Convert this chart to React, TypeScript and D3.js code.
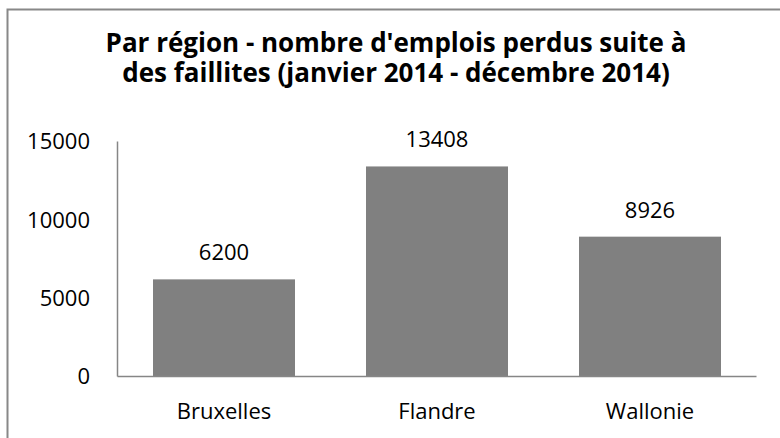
import React from "react";
import { scaleBand, scaleLinear } from "d3";

const width = 780;
const height = 438;

// data
const regions = ["Bruxelles", "Flandre", "Wallonie"];
const jobsLost = [6200, 13408, 8926];
const yTicks = [0, 5000, 10000, 15000];
const titleLines = [
  "Par région - nombre d'emplois perdus suite à",
  "des faillites (janvier 2014 - décembre 2014)",
];

const plot = { left: 117.5, right: 756.5, top: 141.5, bottom: 376.5 };

const barColor = "#808080";
const axisColor = "#868686";
const font = "'Open Sans', 'Liberation Sans', sans-serif";
const labelSize = 22;

const App = () => {
  const xScale = scaleBand<string>()
    .domain(regions)
    .range([plot.left, plot.right])
    .paddingInner(1 / 3)
    .paddingOuter(1 / 6);

  const yScale = scaleLinear().domain([0, 15000]).range([plot.bottom, plot.top]);

  return (
    <svg
      width={width}
      height={height}
      style={{ position: "absolute", left: 0, top: 0, background: "#fff" }}
      fontFamily={font}
    >
      {/* chart frame, runs off the right and bottom of the picture */}
      <rect
        x={7.5}
        y={9.5}
        width={900}
        height={600}
        fill="#fff"
        stroke="#888"
        strokeWidth={2}
      />

      {titleLines.map((t, i) => (
        <text
          key={i}
          x={396}
          y={52 + i * 30}
          textAnchor="middle"
          fontWeight="bold"
          fontSize={26}
          fill="#000"
        >
          {t}
        </text>
      ))}

      {/* bars */}
      {regions.map((r, i) => (
        <rect
          key={r}
          x={xScale(r)}
          y={yScale(jobsLost[i])}
          width={xScale.bandwidth()}
          height={yScale(0) - yScale(jobsLost[i])}
          fill={barColor}
        />
      ))}

      {/* axes */}
      <line
        x1={plot.left}
        x2={plot.left}
        y1={plot.top}
        y2={plot.bottom}
        stroke={axisColor}
        strokeWidth={1.5}
      />
      <line
        x1={plot.left}
        x2={plot.right}
        y1={plot.bottom}
        y2={plot.bottom}
        stroke={axisColor}
        strokeWidth={1.5}
      />

      {yTicks.map((t) => (
        <text
          key={t}
          x={90}
          y={yScale(t)}
          dy="0.36em"
          textAnchor="end"
          fontSize={labelSize}
          fill="#000"
        >
          {t}
        </text>
      ))}

      {/* value labels */}
      {regions.map((r, i) => (
        <text
          key={r}
          x={(xScale(r) ?? 0) + xScale.bandwidth() / 2}
          y={yScale(jobsLost[i]) - 19}
          textAnchor="middle"
          fontSize={labelSize}
          fill="#000"
        >
          {jobsLost[i]}
        </text>
      ))}

      {/* category labels */}
      {regions.map((r) => (
        <text
          key={r}
          x={(xScale(r) ?? 0) + xScale.bandwidth() / 2}
          y={419}
          textAnchor="middle"
          fontSize={labelSize}
          fill="#000"
        >
          {r}
        </text>
      ))}
    </svg>
  );
};

export default App;
